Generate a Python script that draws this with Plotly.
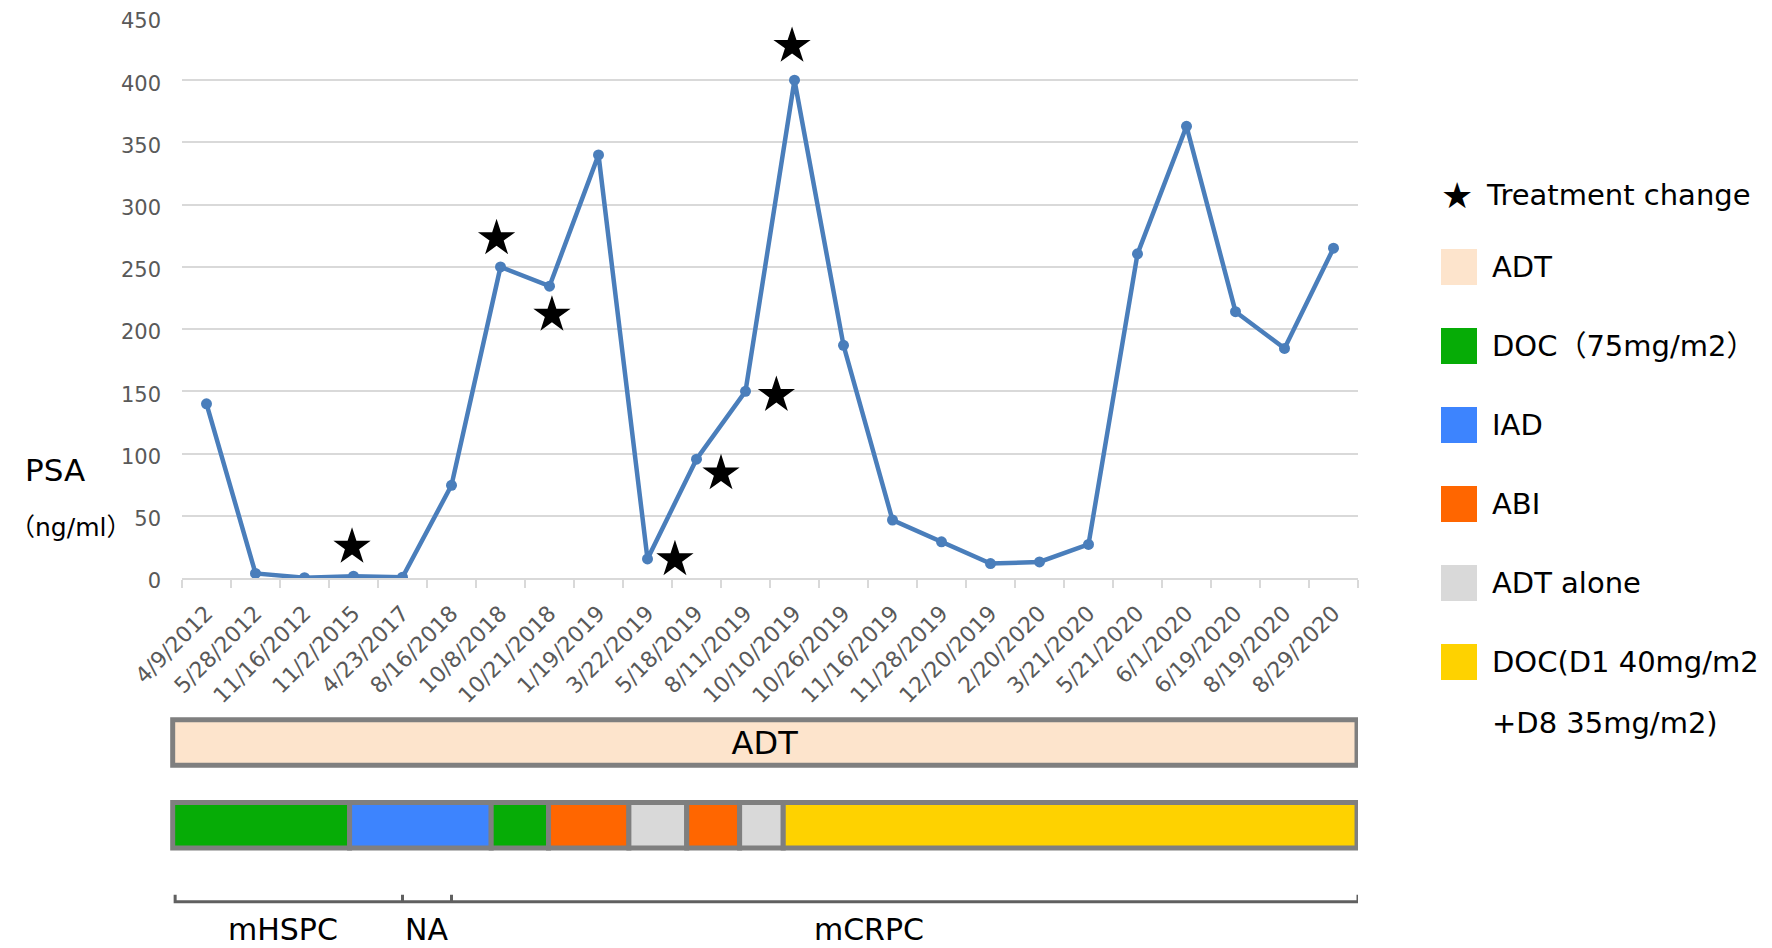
import plotly.graph_objects as go

# PSA measurements (ng/ml) by visit date
dates = ["4/9/2012", "5/28/2012", "11/16/2012", "11/2/2015", "4/23/2017", "8/16/2018",
         "10/8/2018", "10/21/2018", "1/19/2019", "3/22/2019", "5/18/2019", "8/11/2019",
         "10/10/2019", "10/26/2019", "11/16/2019", "11/28/2019", "12/20/2019", "2/20/2020",
         "3/21/2020", "5/21/2020", "6/1/2020", "6/19/2020", "8/19/2020", "8/29/2020"]
psa = [140, 3.7, 0.3, 1.5, 0.6, 74.5, 250, 234.5, 340, 15.3, 95.5, 150,
       400, 187, 46.6, 29.1, 11.6, 12.9, 27, 260.5, 363, 214, 184.5, 265]

# treatment change stars (x in visit index units)
star_x = [2.97, 5.92, 7.05, 9.56, 10.5, 11.63, 11.95]
star_y = [25, 273, 211.5, 15, 84, 147, 427.5]

# treatment bars (x in visit index units)
adt_span = [-0.69, 23.48]
regimen_seq = ["DOC75", "IAD", "DOC75", "ABI", "ALONE", "ABI", "ALONE", "DOC40"]
regimen_bounds = [-0.69, 2.92, 5.81, 6.98, 8.62, 9.80, 10.88, 11.77, 23.48]

stage_names = ["mHSPC", "NA", "mCRPC"]
stage_bounds = [-0.64, 4.0, 5.0, 23.5]
stage_label_x = [1.56, 4.49, 13.52]

legend_keys = ["ADT", "DOC75", "IAD", "ABI", "ALONE", "DOC40"]
legend_labels = ["ADT", "DOC（75mg/m2）", "IAD", "ABI", "ADT alone",
                 "DOC(D1 40mg/m2\n+D8 35mg/m2)"]
colors = {"ADT": "#FDE4CC", "DOC75": "#06AC06", "IAD": "#3D84FE",
          "ABI": "#FF6600", "ALONE": "#D9D9D9", "DOC40": "#FED200"}

# page is 1772x948 but the body has an 8px margin, so the figure is 8px smaller
PAGE_W, PAGE_H, OFF = 1772, 948, 8
W, H = PAGE_W - OFF, PAGE_H - OFF
L, R, T, B = 170, 414, 18, 0          # in page pixels
PW, PH = PAGE_W - L - R, PAGE_H - T - B
FONT = "DejaVu Sans, Noto Sans CJK SC, sans-serif"
GRAY_TXT = "#595959"
GRID = "#D9D9D9"
BORDER = "#7F7F7F"

# pixel rows of the lower panel (page pixels)
Y0_PX = 578          # y=0 of the PSA axis
PANEL_TOP_PX = 700   # top of the treatment panel


def px_x(p):
    return (p - L) / PW


def px_y(p):
    return (PAGE_H - B - p) / PH


fig = go.Figure()

# ADT bar and regimen bar
starts = [adt_span[0]] + regimen_bounds[:-1]
ends = [adt_span[1]] + regimen_bounds[1:]
keys = ["ADT"] + regimen_seq
fig.add_trace(go.Bar(
    orientation="h",
    y=[1] + [0] * len(regimen_seq),
    base=starts,
    x=[e - s for s, e in zip(starts, ends)],
    width=0.548,
    marker=dict(color=[colors[k] for k in keys], line=dict(color=BORDER, width=5)),
    text=["ADT"] + [""] * len(regimen_seq),
    textposition="inside",
    insidetextanchor="middle",
    textangle=0,
    textfont=dict(size=32, color="black", family=FONT),
    xaxis="x3", yaxis="y3", showlegend=False, hoverinfo="skip",
))

# stage bracket
base_y, tick_h = -0.923, 0.085
bx, by = [stage_bounds[0], stage_bounds[0]], [base_y + tick_h, base_y]
for b in stage_bounds[1:-1]:
    bx += [b, b, b]
    by += [base_y, base_y + tick_h, base_y]
bx += [stage_bounds[-1], stage_bounds[-1]]
by += [base_y, base_y + tick_h]
fig.add_trace(go.Scatter(
    x=bx, y=by, mode="lines", line=dict(color="#606060", width=3),
    xaxis="x3", yaxis="y3", showlegend=False, hoverinfo="skip",
))
fig.add_trace(go.Scatter(
    x=stage_label_x, y=[-1.30] * len(stage_names), mode="text", text=stage_names,
    textfont=dict(size=30, color="black", family=FONT), cliponaxis=False,
    xaxis="x3", yaxis="y3", showlegend=False, hoverinfo="skip",
))

# PSA line
fig.add_trace(go.Scatter(
    x=list(range(len(dates))), y=psa, mode="lines+markers",
    line=dict(color="#4A7EBB", width=4.5),
    marker=dict(size=11, color="#4A7EBB"),
    showlegend=False,
))
fig.add_trace(go.Scatter(
    x=star_x, y=star_y, mode="markers",
    marker=dict(symbol="star", size=28, color="black"),
    showlegend=False, cliponaxis=False,
))

# custom legend
shapes = []
annotations = []
annotations.append(dict(x=px_x(1457), y=px_y(195), xref="paper", yref="paper",
                        text="★", showarrow=False, xanchor="center", yanchor="middle",
                        font=dict(size=36, color="black", family=FONT)))
annotations.append(dict(x=px_x(1484), y=px_y(195), xref="paper", yref="paper",
                        text="Treatment change", showarrow=False, xanchor="left",
                        yanchor="middle", font=dict(size=29, color="black", family=FONT)))
for i, (k, lab) in enumerate(zip(legend_keys, legend_labels)):
    cy = 267 + 79 * i
    shapes.append(dict(type="rect", xref="paper", yref="paper",
                       x0=px_x(1441), x1=px_x(1477), y0=px_y(cy - 18), y1=px_y(cy + 18),
                       fillcolor=colors[k], line=dict(width=0)))
    for j, line in enumerate(lab.split("\n")):
        annotations.append(dict(x=px_x(1490), y=px_y(cy + 61 * j), xref="paper", yref="paper",
                                text=line, showarrow=False, xanchor="left", yanchor="middle",
                                font=dict(size=29, color="black", family=FONT)))

# y-axis title
annotations.append(dict(x=px_x(55), y=px_y(470), xref="paper", yref="paper", text="PSA",
                        showarrow=False, xanchor="center", yanchor="middle",
                        font=dict(size=31, color="black", family=FONT)))
annotations.append(dict(x=px_x(OFF + 1), y=px_y(527), xref="paper", yref="paper",
                        text="（ng/ml）", showarrow=False, xanchor="left", yanchor="middle",
                        borderpad=0, font=dict(size=25, color="black", family=FONT)))

# treatment panel axis: 82.8 px per row, rows 1 (ADT) and 0 (regimen)
row_px = 82.8
panel_h = PAGE_H - B - PANEL_TOP_PX
y3_bottom = -(PAGE_H - B - 825.3) / row_px
y3_range = [y3_bottom, y3_bottom + panel_h / row_px]

fig.update_layout(
    width=W, height=H,
    margin=dict(l=L - OFF, r=R, t=T - OFF, b=B),
    paper_bgcolor="white", plot_bgcolor="white",
    font=dict(family=FONT),
    barmode="overlay",
    shapes=shapes,
    annotations=annotations,
    xaxis=dict(
        domain=[12 / PW, 1], range=[-0.5, 23.5], anchor="y",
        tickvals=list(range(len(dates))), ticktext=dates, tickangle=-45,
        tickfont=dict(size=22, color=GRAY_TXT), ticklabelstandoff=12,
        showgrid=False, zeroline=False,
        showline=True, linecolor=GRID, linewidth=1.5, ticks="",
        minor=dict(tickvals=[i - 0.5 for i in range(len(dates) + 1)], ticks="outside",
                   ticklen=8, tickwidth=1.5, tickcolor=GRID, showgrid=False),
        automargin=False,
    ),
    yaxis=dict(
        domain=[(PAGE_H - B - Y0_PX) / PH, 1], range=[0, 450], dtick=50, anchor="x",
        showgrid=True, gridcolor=GRID, gridwidth=1.5, zeroline=False, showline=False,
        tickfont=dict(size=21, color=GRAY_TXT), ticklabelstandoff=20, ticklabelshift=3,
        ticklabeloverflow="allow", automargin=False,
    ),
    xaxis3=dict(domain=[0, 1], range=[-0.745, 23.5], anchor="y3", visible=False),
    yaxis3=dict(domain=[0, panel_h / PH], range=y3_range, anchor="x3", visible=False),
)

fig.write_html("out.html")
